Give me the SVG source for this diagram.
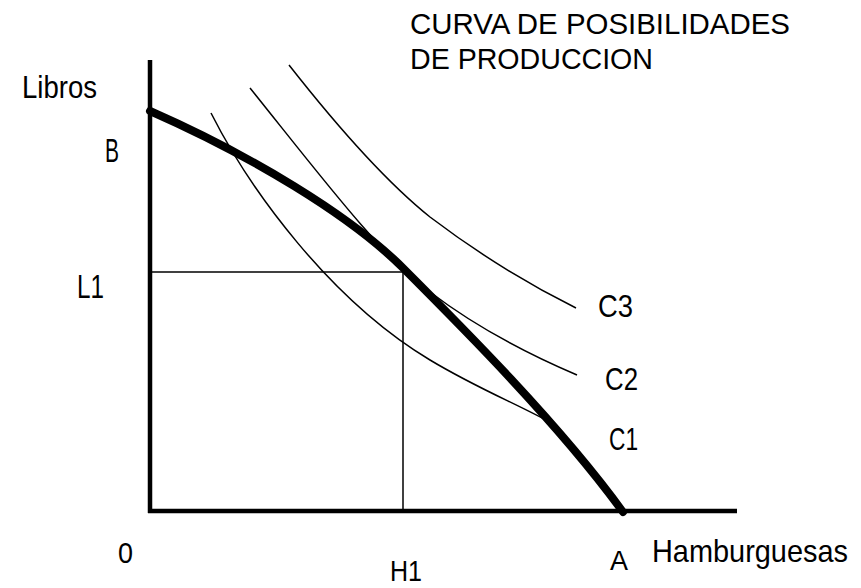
<svg xmlns="http://www.w3.org/2000/svg" width="861" height="588" viewBox="0 0 861 588">
  <style>
    .t { font-family: "Liberation Sans", Arial, sans-serif; fill: #000; }
    .axis { stroke: #000; stroke-width: 4.5; fill: none; }
    .guide { stroke: #000; stroke-width: 1.5; fill: none; }
    .ic { stroke: #000; stroke-width: 1.5; fill: none; }
    .ppf { stroke: #000; stroke-width: 8; fill: none; stroke-linecap: round; }
  </style>
  <rect width="861" height="588" fill="#fff"/>
  <g id="title">
    <text class="t" x="410" y="34" font-size="30" textLength="380" lengthAdjust="spacingAndGlyphs">CURVA DE POSIBILIDADES</text>
    <text class="t" x="410" y="69" font-size="30" textLength="243" lengthAdjust="spacingAndGlyphs">DE PRODUCCION</text>
  </g>
  <g id="axes">
    <line class="axis" x1="150" y1="60" x2="150" y2="513"/>
    <line class="axis" x1="148" y1="511" x2="737" y2="511"/>
  </g>
  <g id="guides">
    <line class="guide" x1="150" y1="272" x2="403" y2="272"/>
    <line class="guide" x1="403" y1="272" x2="403" y2="512"/>
  </g>
  <g id="indifference-curves">
    <path id="c1" class="ic" d="M211,113 C250,190 330,300 430,360 C480,390 520,405 555,425"/>
    <path id="c2" class="ic" d="M250,88 C320,175 380,255 430,292 C480,330 530,355 577,375"/>
    <path id="c3" class="ic" d="M289,65 C340,130 390,185 430,217 C480,255 530,285 576,308"/>
  </g>
  <g id="ppf">
    <path class="ppf" d="M150,111 C250,155 350,215 403,268 C460,325 560,425 623,512"/>
  </g>
  <g id="labels">
    <text class="t" x="22" y="98" font-size="32" textLength="75" lengthAdjust="spacingAndGlyphs">Libros</text>
    <text class="t" x="105" y="162" font-size="33" textLength="14" lengthAdjust="spacingAndGlyphs">B</text>
    <text class="t" x="77" y="298" font-size="33" textLength="27" lengthAdjust="spacingAndGlyphs">L1</text>
    <text class="t" x="118" y="563" font-size="30" textLength="15" lengthAdjust="spacingAndGlyphs">0</text>
    <text class="t" x="390" y="581" font-size="29" textLength="32" lengthAdjust="spacingAndGlyphs">H1</text>
    <text class="t" x="598" y="317" font-size="32" textLength="35" lengthAdjust="spacingAndGlyphs">C3</text>
    <text class="t" x="605" y="390" font-size="32" textLength="33" lengthAdjust="spacingAndGlyphs">C2</text>
    <text class="t" x="609" y="450" font-size="32" textLength="29" lengthAdjust="spacingAndGlyphs">C1</text>
    <text class="t" x="610" y="570" font-size="27" textLength="18" lengthAdjust="spacingAndGlyphs">A</text>
    <text class="t" x="652" y="562" font-size="30.5" textLength="196" lengthAdjust="spacingAndGlyphs">Hamburguesas</text>
  </g>
</svg>
